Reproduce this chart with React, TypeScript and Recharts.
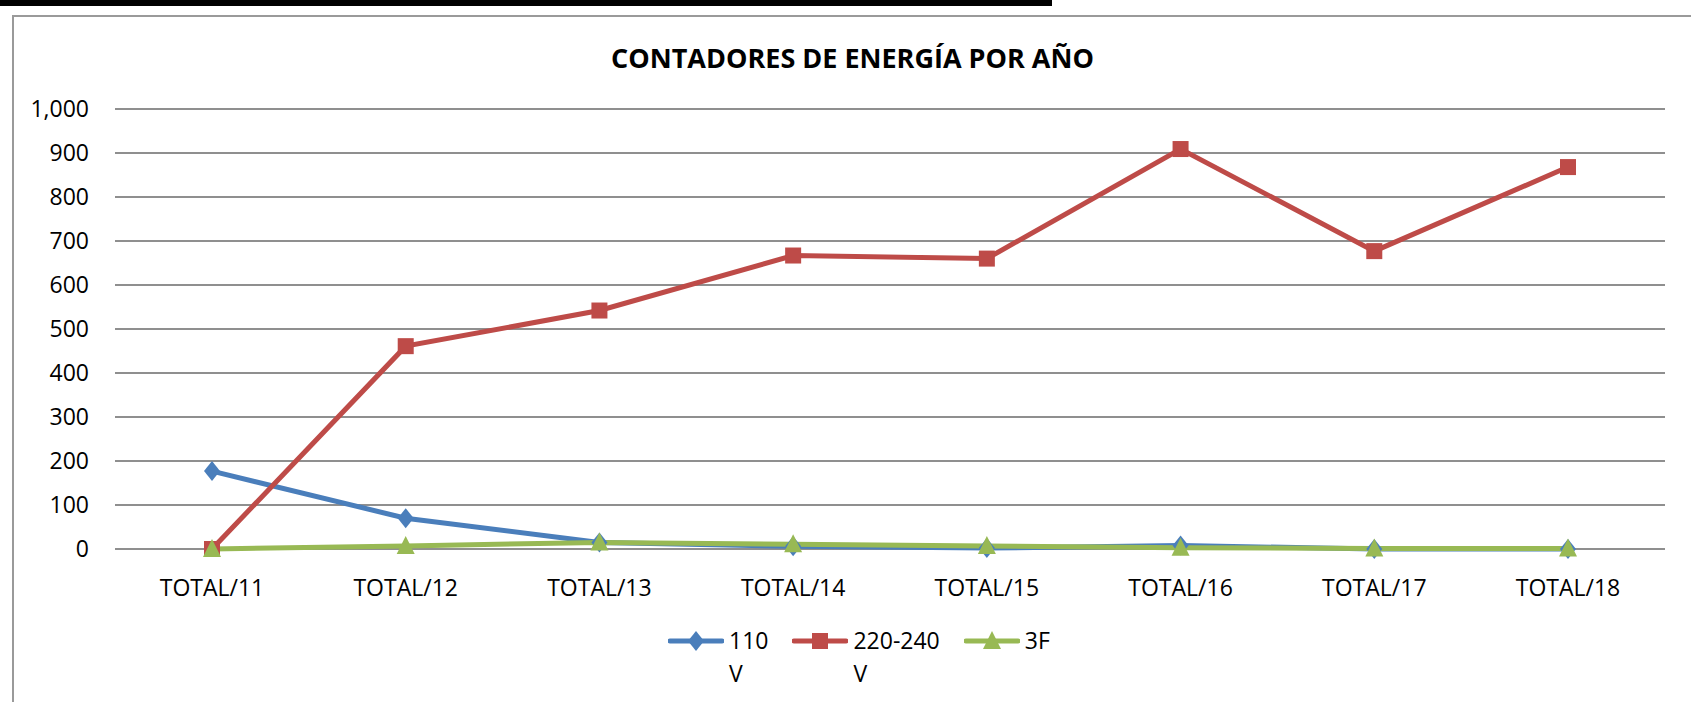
import React from 'react';
import { LineChart, Line, XAxis, YAxis, CartesianGrid } from 'recharts';

const categories = ['TOTAL/11', 'TOTAL/12', 'TOTAL/13', 'TOTAL/14', 'TOTAL/15', 'TOTAL/16', 'TOTAL/17', 'TOTAL/18'];
const values110 = [177, 70, 15, 6, 2, 8, 0, 0];
const values220 = [0, 461, 542, 667, 660, 909, 677, 868];
const values3F = [0, 7, 15, 11, 7, 3, 1, 1];
const yTicks = [0, 100, 200, 300, 400, 500, 600, 700, 800, 900, 1000];

const seriesNames = ['110 V', '220-240 V', '3F'];
const seriesKeys = ['v110', 'v220', 'v3f'];
const seriesColors = ['#4a7ebb', '#be4b48', '#98b954'];
const seriesShapes = ['diamond', 'square', 'triangle'];

const FONT = '"Open Sans", sans-serif';

const data = categories.map((name, i) => ({
  name,
  v110: values110[i],
  v220: values220[i],
  v3f: values3F[i],
}));

const Marker = ({ shape, color, cx, cy }: { shape: string; color: string; cx: number; cy: number }) => {
  if (shape === 'diamond') {
    const r = 10;
    return <polygon points={`${cx},${cy - r} ${cx + r * 0.8},${cy} ${cx},${cy + r} ${cx - r * 0.8},${cy}`} fill={color} />;
  }
  if (shape === 'square') {
    return <rect x={cx - 8} y={cy - 8} width={16} height={16} fill={color} />;
  }
  return <polygon points={`${cx},${cy - 10} ${cx + 9},${cy + 8} ${cx - 9},${cy + 8}`} fill={color} />;
};

const makeDot = (idx: number) => (props: any) => {
  const { cx, cy, index } = props;
  if (cx == null || cy == null) return <g key={index} />;
  return (
    <g key={`${seriesKeys[idx]}-${index}`}>
      <Marker shape={seriesShapes[idx]} color={seriesColors[idx]} cx={cx} cy={cy} />
    </g>
  );
};

const App: React.FC = () => {
  return (
    <div style={{ position: 'absolute', left: 0, top: 0, width: 1691, height: 702, background: '#fff', overflow: 'hidden', fontFamily: FONT }}>
      {/* black strip at the top */}
      <div style={{ position: 'absolute', left: 0, top: 0, width: 1052, height: 6, background: '#000' }} />
      {/* chart frame */}
      <div
        style={{
          position: 'absolute',
          left: 12,
          top: 15,
          width: 1691,
          height: 702,
          borderLeft: '2px solid #9a9a9a',
          borderTop: '2px solid #9a9a9a',
        }}
      />
      <div
        style={{
          position: 'absolute',
          left: 14,
          width: 1677,
          top: 40,
          textAlign: 'center',
          fontSize: 27,
          fontWeight: 700,
          color: '#000',
          lineHeight: '36px',
        }}
      >
        CONTADORES DE ENERGÍA POR AÑO
      </div>

      <div style={{ position: 'absolute', left: 0, top: 0 }}>
        <LineChart width={1691} height={702} data={data} margin={{ top: 109, right: 26, bottom: 93, left: 15 }}>
          <CartesianGrid vertical={false} stroke="#8f8f8f" strokeWidth={2} />
          <XAxis
            dataKey="name"
            axisLine={false}
            tickLine={false}
            tickSize={0}
            tickMargin={31}
            height={60}
            padding={{ left: 97, right: 97 }}
            interval={0}
            tick={{ fill: '#000', fontSize: 23, fontFamily: FONT }}
          />
          <YAxis
            width={100}
            domain={[0, 1000]}
            ticks={yTicks}
            axisLine={false}
            tickLine={false}
            tickSize={0}
            tickMargin={26}
            tickFormatter={(v: number) => v.toLocaleString('en-US')}
            tick={{ fill: '#000', fontSize: 23, fontFamily: FONT }}
          />
          {seriesKeys.map((key, idx) => (
            <Line
              key={key}
              type="linear"
              dataKey={key}
              name={seriesNames[idx]}
              stroke={seriesColors[idx]}
              strokeWidth={5}
              dot={makeDot(idx)}
              activeDot={false}
              isAnimationActive={false}
            />
          ))}
        </LineChart>
      </div>

      {/* legend: names wrap at the space, as in the original */}
      <div style={{ position: 'absolute', left: 668, top: 624, display: 'flex', alignItems: 'flex-start', gap: 24 }}>
        {seriesNames.map((name, idx) => (
          <div key={name} style={{ display: 'flex', alignItems: 'flex-start', gap: 5 }}>
            <svg width={56} height={34}>
              <line x1={2} y1={17} x2={54} y2={17} stroke={seriesColors[idx]} strokeWidth={5} strokeLinecap="round" />
              <Marker shape={seriesShapes[idx]} color={seriesColors[idx]} cx={28} cy={17} />
            </svg>
            <div style={{ fontSize: 23, lineHeight: '33px', color: '#000', whiteSpace: 'nowrap' }}>
              {name.split(' ').map((part, i) => (
                <div key={i}>{part}</div>
              ))}
            </div>
          </div>
        ))}
      </div>
    </div>
  );
};

export default App;
